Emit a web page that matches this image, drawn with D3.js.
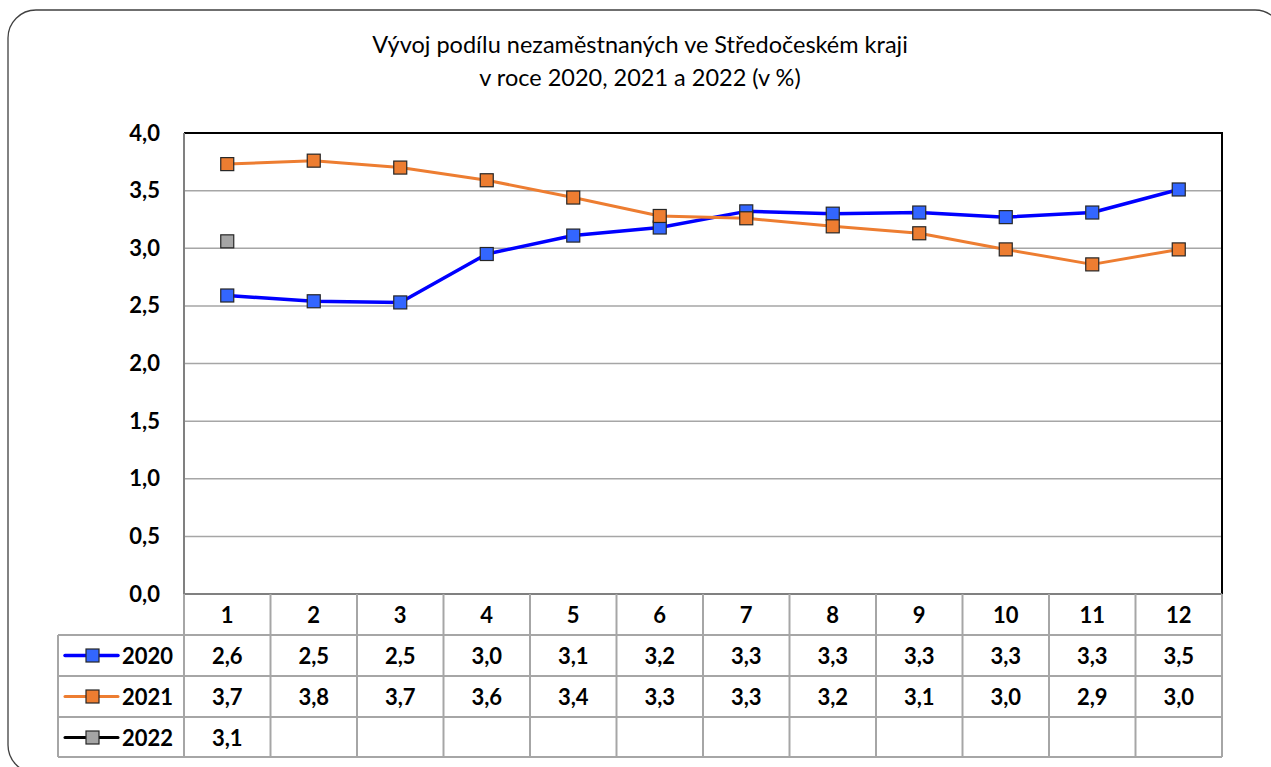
<!DOCTYPE html>
<html>
<head>
<meta charset="utf-8">
<script src="https://cdn.jsdelivr.net/npm/d3@7"></script>
<style>
  body { margin: 0; background: #fff; }
  svg { display: block; font-family: Lato, "Open Sans", sans-serif; }
</style>
</head>
<body>
<svg id="canvas"></svg>
<script>
let months = ["1", "2", "3", "4", "5", "6", "7", "8", "9", "10", "11", "12"];
let years = ["2020", "2021", "2022"];

// values
let values2020 = [2.59, 2.54, 2.53, 2.95, 3.11, 3.18, 3.32, 3.30, 3.31, 3.27, 3.31, 3.51];
let values2021 = [3.73, 3.76, 3.70, 3.59, 3.44, 3.28, 3.26, 3.19, 3.13, 2.99, 2.86, 2.99];
let values2022 = [3.06];

// labels printed in the data table
let labels2020 = ["2,6", "2,5", "2,5", "3,0", "3,1", "3,2", "3,3", "3,3", "3,3", "3,3", "3,3", "3,5"];
let labels2021 = ["3,7", "3,8", "3,7", "3,6", "3,4", "3,3", "3,3", "3,2", "3,1", "3,0", "2,9", "3,0"];
let labels2022 = ["3,1"];

let yTicks = [0, 0.5, 1, 1.5, 2, 2.5, 3, 3.5, 4];

let series = [
  {name: years[0], values: values2020, labels: labels2020, line: "#0000ff", marker: "#3366ff", width: 3.5},
  {name: years[1], values: values2021, labels: labels2021, line: "#ed7d31", marker: "#ed7d31", width: 3},
  {name: years[2], values: values2022, labels: labels2022, line: "#000000", marker: "#a5a5a5", width: 3}
];

let width = 1271;
let height = 767;
let plotLeft = 184, plotRight = 1222, plotTop = 133, plotBottom = 594;
let rowH = 41;
let tableLeft = 58;
let numSize = 22;

let canvas = d3.select("#canvas")
canvas.attr("width", width);
canvas.attr("height", height);

canvas.append("rect")
      .attr("x", 8).attr("y", 10)
      .attr("width", 1275).attr("height", 763)
      .attr("rx", 28)
      .attr("fill", "#fff")
      .attr("stroke", "#404040")
      .attr("stroke-width", 1.3);

canvas.append("text")
      .attr("x", 640).attr("y", 53)
      .attr("text-anchor", "middle")
      .attr("font-size", 23.5)
      .text("Vývoj podílu nezaměstnaných ve Středočeském kraji");
canvas.append("text")
      .attr("x", 640).attr("y", 86)
      .attr("text-anchor", "middle")
      .attr("font-size", 23.5)
      .text("v roce 2020, 2021 a 2022 (v %)");

let xScale = d3.scaleBand()
               .domain(months)
               .range([plotLeft, plotRight]);

let yScale = d3.scaleLinear()
               .domain([0, 4])
               .range([plotBottom, plotTop]);

// gridlines
canvas.append("g")
      .selectAll("line")
      .data(yTicks.filter(d => d > 0 && d < 4))
      .enter()
      .append("line")
      .attr("x1", plotLeft).attr("x2", plotRight)
      .attr("y1", d => yScale(d)).attr("y2", d => yScale(d))
      .attr("stroke", "#a6a6a6")
      .attr("stroke-width", 1.5);

// plot border
canvas.append("path")
      .attr("d", `M${plotLeft},${plotTop}H${plotRight}V${plotBottom}`)
      .attr("fill", "none").attr("stroke", "#000").attr("stroke-width", 2);
canvas.append("path")
      .attr("d", `M${plotLeft},${plotTop}V${plotBottom}H${plotRight}`)
      .attr("fill", "none").attr("stroke", "#808080").attr("stroke-width", 2);

let yAxis = d3.axisLeft(yScale)
              .tickValues(yTicks)
              .tickSize(0)
              .tickPadding(24)
              .tickFormat(d => d3.format(".1f")(d).replace(".", ","));

canvas.append("g")
      .attr("transform", "translate(" + plotLeft + ", 0)")
      .call(yAxis)
      .call(g => g.select(".domain").remove())
      .selectAll("text")
      .attr("font-size", numSize)
      .attr("font-weight", "bold")
      .attr("font-family", "Lato, 'Open Sans', sans-serif")
      .attr("fill", "#000");

// lines and markers
let line = d3.line()
             .x((d, i) => xScale(months[i]) + xScale.bandwidth() / 2)
             .y(d => yScale(d));

series.forEach(s => {
  canvas.append("path")
        .datum(s.values)
        .attr("d", line)
        .attr("fill", "none")
        .attr("stroke", s.line)
        .attr("stroke-width", s.width)
        .attr("stroke-linejoin", "round");
});

series.forEach(s => {
  canvas.append("g")
        .selectAll("rect")
        .data(s.values)
        .enter()
        .append("rect")
        .attr("x", (d, i) => xScale(months[i]) + xScale.bandwidth() / 2 - 6.5)
        .attr("y", d => yScale(d) - 6.5)
        .attr("width", 13).attr("height", 13)
        .attr("fill", s.marker)
        .attr("stroke", "#262626")
        .attr("stroke-width", 1.2);
});

// data table
let table = canvas.append("g");
let gridColor = "#a6a6a6";
let tableBottom = plotBottom + rowH * 4 - 1;

table.selectAll(".vline")
     .data(months)
     .enter()
     .append("line")
     .attr("x1", d => xScale(d) + xScale.bandwidth())
     .attr("x2", d => xScale(d) + xScale.bandwidth())
     .attr("y1", plotBottom).attr("y2", tableBottom)
     .attr("stroke", gridColor).attr("stroke-width", 2);

table.append("line")
     .attr("x1", plotLeft).attr("x2", plotLeft)
     .attr("y1", plotBottom).attr("y2", tableBottom)
     .attr("stroke", gridColor).attr("stroke-width", 2);
table.append("line")
     .attr("x1", tableLeft).attr("x2", tableLeft)
     .attr("y1", plotBottom + rowH).attr("y2", tableBottom)
     .attr("stroke", gridColor).attr("stroke-width", 2);

[1, 2, 3, 4].forEach(r => {
  let y = r === 4 ? tableBottom : plotBottom + rowH * r;
  table.append("line")
       .attr("x1", tableLeft).attr("x2", plotRight)
       .attr("y1", y).attr("y2", y)
       .attr("stroke", gridColor).attr("stroke-width", 2);
});

table.selectAll(".head")
     .data(months)
     .enter()
     .append("text")
     .attr("x", d => xScale(d) + xScale.bandwidth() / 2)
     .attr("y", plotBottom + rowH / 2 + 8)
     .attr("text-anchor", "middle")
     .attr("font-size", numSize).attr("font-weight", "bold")
     .text(d => d);

series.forEach((s, r) => {
  let cy = plotBottom + rowH * (r + 1) + rowH / 2;
  table.selectAll(".cell" + r)
       .data(s.labels)
       .enter()
       .append("text")
       .attr("x", (d, i) => xScale(months[i]) + xScale.bandwidth() / 2)
       .attr("y", cy + 8)
       .attr("text-anchor", "middle")
       .attr("font-size", numSize).attr("font-weight", "bold")
       .text(d => d);

  table.append("line")
       .attr("x1", 65).attr("x2", 118)
       .attr("y1", cy).attr("y2", cy)
       .attr("stroke", s.line).attr("stroke-width", s.width)
       .attr("stroke-linecap", "round");
  table.append("rect")
       .attr("x", 86).attr("y", cy - 6.5)
       .attr("width", 13).attr("height", 13)
       .attr("fill", s.marker)
       .attr("stroke", "#262626").attr("stroke-width", 1.2);
  table.append("text")
       .attr("x", 122).attr("y", cy + 8)
       .attr("font-size", numSize).attr("font-weight", "bold")
       .text(s.name);
});
</script>
</body>
</html>
